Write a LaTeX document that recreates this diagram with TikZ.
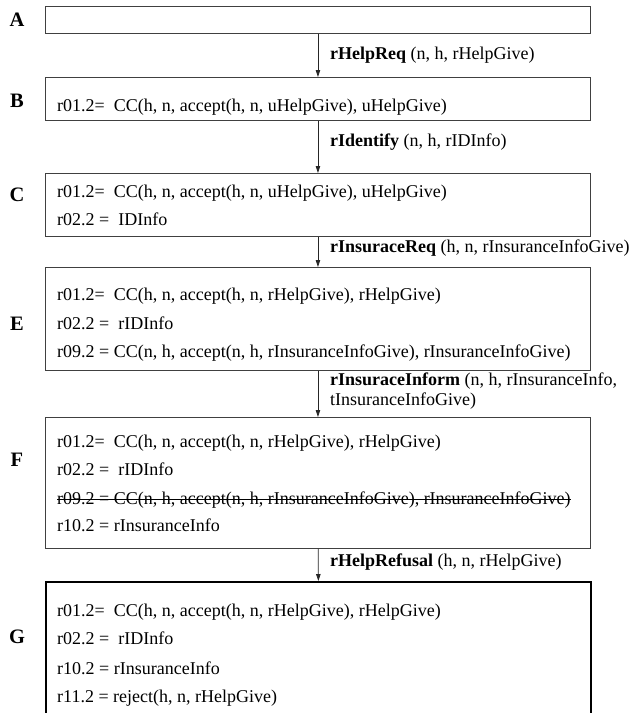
\documentclass[tikz,border=0pt]{standalone}
\usepackage{fontspec}
\setmainfont{Liberation Serif}
\usetikzlibrary{arrows.meta}
\tikzset{
  statebox/.style={draw=black!75, line width=0.9pt, rectangle, anchor=north west, minimum width=545pt, inner sep=0pt},
  finalbox/.style={statebox, draw=black, line width=2.4pt},
  tag/.style={font=\fontsize{20.5}{24}\selectfont\bfseries, inner sep=0pt},
  rule/.style={anchor=base west, inner sep=0pt, font=\fontsize{18}{21}\selectfont},
  msg/.style={anchor=west, inner sep=0pt, align=left, font=\fontsize{18}{19.5}\selectfont},
  flow/.style={-{Triangle[length=7pt,width=4.5pt]}, black!85, line width=0.8pt}
}

\begin{document}
\begin{tikzpicture}[x=1pt, y=-1pt]
  \clip (0,0) rectangle (630,713);
  % States
  \node[statebox, minimum height=27pt] (A) at (45,6) {};
  \node[statebox, minimum height=43pt] (B) at (45,77) {};
  \node[statebox, minimum height=63pt] (C) at (45,173) {};
  \node[statebox, minimum height=103pt] (E) at (45,267) {};
  \node[statebox, minimum height=131pt] (F) at (45,417) {};
  \node[finalbox, minimum height=150pt] (G) at (45,581) {};
  % State names
  \node[tag] (tA) at (17,20) {A};
  \node[tag] (tB) at (17,101) {B};
  \node[tag] (tC) at (17,195) {C};
  \node[tag] (tE) at (17,324) {E};
  \node[tag] (tF) at (17,460) {F};
  \node[tag] (tG) at (17,637) {G};
  % Commitments in B and C
  \node[rule] (b1) at (57,111) {r01.2=~ CC(h, n, accept(h, n, uHelpGive), uHelpGive)};
  \node[rule] (c1) at (57,197) {r01.2=~ CC(h, n, accept(h, n, uHelpGive), uHelpGive)};
  \node[rule] (c2) at (57,225) {r02.2 =~ IDInfo};
  % Commitments in E
  \node[rule] (e1) at (57,300) {r01.2=~ CC(h, n, accept(h, n, rHelpGive), rHelpGive)};
  \node[rule] (e2) at (57,329) {r02.2 =~ rIDInfo};
  \node[rule] (e3) at (57,357) {r09.2 = CC(n, h, accept(n, h, rInsuranceInfoGive), rInsuranceInfoGive)};
  % Commitments in F
  \node[rule] (f1) at (57,447) {r01.2=~ CC(h, n, accept(h, n, rHelpGive), rHelpGive)};
  \node[rule] (f2) at (57,475) {r02.2 =~ rIDInfo};
  \node[rule] (f3) at (57,504) {r09.2 = CC(n, h, accept(n, h, rInsuranceInfoGive), rInsuranceInfoGive)};
  \node[rule] (f4) at (57,531) {r10.2 = rInsuranceInfo};
  \draw[line width=0.8pt] ([yshift=4.5pt]f3.base west) -- ([yshift=4.5pt]f3.base east);
  % Commitments in G
  \node[rule] (g1) at (57,616) {r01.2=~ CC(h, n, accept(h, n, rHelpGive), rHelpGive)};
  \node[rule] (g2) at (57,644) {r02.2 =~ rIDInfo};
  \node[rule] (g3) at (57,674) {r10.2 = rInsuranceInfo};
  \node[rule] (g4) at (57,702) {r11.2 = reject(h, n, rHelpGive)};
  % Messages
  \draw[flow] (A) -- (B);
  \draw[flow] (B) -- (C);
  \draw[flow] (C) -- (E);
  \draw[flow] (E) -- (F);
  \draw[flow] (F) -- (G);
  \node[msg] (m1) at (330,55) {\textbf{rHelpReq} (n, h, rHelpGive)};
  \node[msg] (m2) at (330,142) {\textbf{rIdentify} (n, h, rIDInfo)};
  \node[msg] (m3) at (330,248) {\textbf{rInsuraceReq} (h, n, rInsuranceInfoGive)};
  \node[msg] (m4) at (330,391) {\textbf{rInsuraceInform} (n, h, rInsuranceInfo,\\tInsuranceInfoGive)};
  \node[msg] (m5) at (330,562) {\textbf{rHelpRefusal} (h, n, rHelpGive)};
\end{tikzpicture}
\end{document}
